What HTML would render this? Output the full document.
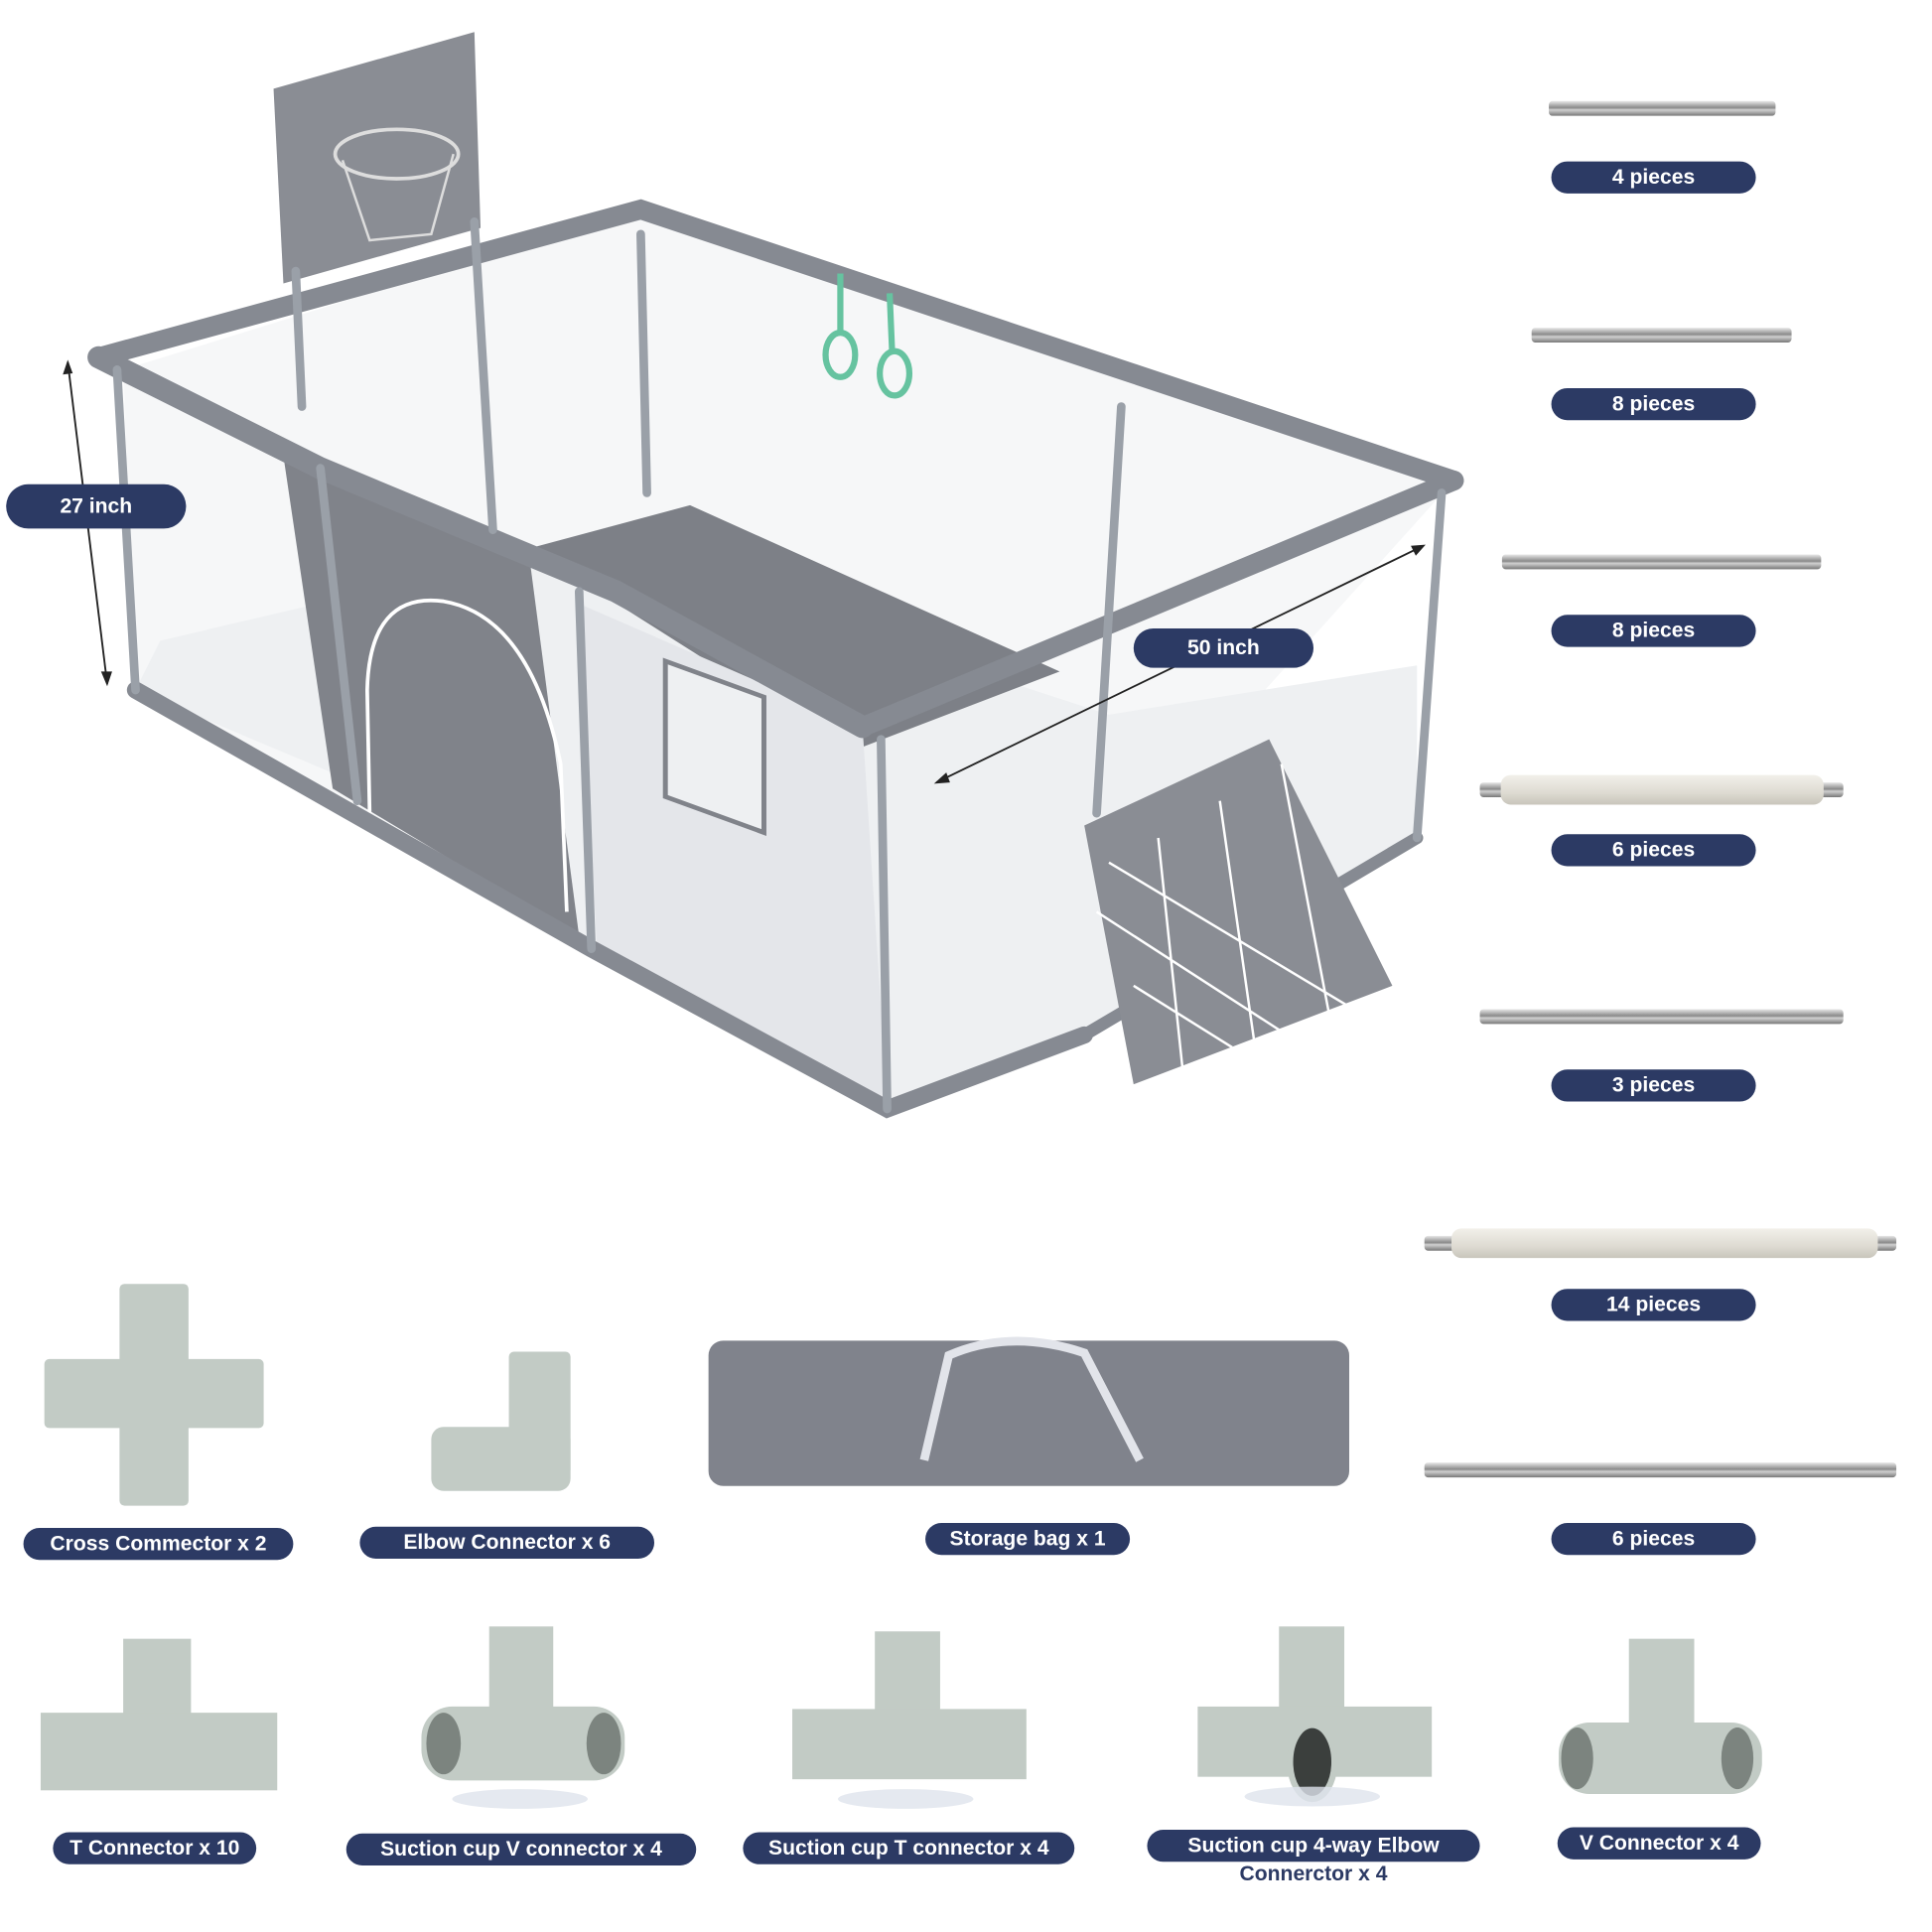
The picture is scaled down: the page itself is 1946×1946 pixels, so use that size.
<!DOCTYPE html>
<html><head><meta charset="utf-8"><style>
html,body{margin:0;padding:0;background:#fff;}
body{width:1946px;height:1946px;overflow:hidden;position:relative;}
#c{position:absolute;left:0;top:0;width:1568px;height:1568px;transform:scale(1.2411);transform-origin:0 0;font-family:"Liberation Sans",sans-serif;}
.l{position:absolute;background:#2c3a64;color:#fff;font-weight:bold;font-size:17px;height:26px;line-height:26px;border-radius:13px;text-align:center;white-space:nowrap;}
.rod{position:absolute;height:12px;border-radius:3px;background:linear-gradient(#e8e8e8,#8a8a8a 45%,#d0d0d0 60%,#777);}
.foam{position:absolute;height:24px;border-radius:8px;background:linear-gradient(#f2f0ea,#dedbd2 60%,#c8c5bb);}
</style></head><body><div id="c">
<svg width="1568" height="1568" style="position:absolute;left:0;top:0">
<g fill="#a9b2ad" stroke="#969f9a" stroke-width="1">
 <!-- playpen -->
</g>
<!-- floor / nets -->
<polygon points="100,300 520,170 1180,390 720,900 110,560" fill="#f6f7f8"/>
<polygon points="110,560 300,640 460,760 720,900 870,840 1150,680 1150,540 900,580 470,440 130,520" fill="#eef0f2"/>
<!-- hoop board -->
<polygon points="222,72 385,26 390,185 230,230" fill="#8a8d94"/>
<ellipse cx="322" cy="125" rx="50" ry="20" fill="none" stroke="#ddd" stroke-width="3"/>
<path d="M278,130 L300,195 L350,190 L368,125" fill="none" stroke="#ddd" stroke-width="2"/>
<!-- bed / mattress -->
<polygon points="430,445 560,410 860,545 690,610" fill="#7d8087"/>
<!-- front panel with door -->
<polygon points="230,370 430,455 470,760 270,640" fill="#80838a"/>
<path d="M300,660 L298,560 Q300,480 360,488 Q430,500 455,620 L460,740" fill="none" stroke="#fff" stroke-width="3"/>
<!-- mesh side panel -->
<polygon points="470,490 700,590 720,895 485,780" fill="#e4e6ea"/>
<rect x="540" y="540" width="80" height="110" fill="#eef0f2" stroke="#80838a" stroke-width="4" transform="skewY(20) translate(0,-200)"/>
<!-- frame tubes -->
<g stroke="#868a92" stroke-linecap="round" fill="none">
<path d="M80,290 L520,170 L1180,390" stroke-width="16"/>
<path d="M80,290 L260,380 L500,480 L700,590" stroke-width="18"/>
<path d="M700,590 L1180,390" stroke-width="16"/>
<path d="M110,560 L480,770 L720,900 L880,840" stroke-width="14"/>
<path d="M880,840 L1150,680" stroke-width="10"/>
<g stroke-width="7" stroke="#9aa0a8">
<path d="M95,300 L110,560"/><path d="M260,380 L290,650"/><path d="M470,480 L480,770"/>
<path d="M715,600 L720,900"/><path d="M1170,400 L1150,680"/><path d="M910,330 L890,660"/>
<path d="M520,190 L525,400"/><path d="M240,220 L245,330"/><path d="M385,180 L400,430"/>
</g>
</g>
<!-- goal net -->
<polygon points="880,670 1030,600 1130,800 920,880" fill="#8a8d94"/>
<g stroke="#fff" stroke-width="2"><path d="M900,700 L1100,820 M890,740 L1060,850 M920,800 L1000,850 M940,680 L960,870 M990,650 L1020,860 M1040,620 L1080,830"/></g>
<!-- green rings -->
<g fill="none" stroke="#66c3a0" stroke-width="5"><ellipse cx="682" cy="288" rx="12" ry="18"/><ellipse cx="726" cy="303" rx="12" ry="18"/><path d="M682,222 L682,270 M722,238 L724,285"/></g>
<!-- dimension lines -->
<g stroke="#222" stroke-width="1.5"><path d="M55,294 L87,555"/><path d="M760,635 L1155,443"/></g>
<g fill="#222"><polygon points="55,292 51,304 59,303"/><polygon points="87,557 82,545 91,545"/><polygon points="758,636 768,627 771,635"/><polygon points="1157,442 1145,443 1149,451"/></g>
<!-- connectors -->
<g fill="#c2cbc5">
<rect x="97" y="1042" width="56" height="180" rx="4"/><rect x="36" y="1103" width="178" height="56" rx="4"/>
<rect x="413" y="1097" width="50" height="100" rx="4"/><rect x="350" y="1158" width="113" height="52" rx="10"/>
<rect x="100" y="1330" width="55" height="95"/><rect x="33" y="1390" width="192" height="63"/>
<rect x="397" y="1320" width="52" height="100"/><rect x="342" y="1385" width="165" height="60" rx="25"/>
<rect x="710" y="1324" width="53" height="100"/><rect x="643" y="1387" width="190" height="57"/>
<rect x="1038" y="1320" width="53" height="100"/><rect x="972" y="1385" width="190" height="57"/>
<rect x="1322" y="1330" width="53" height="90"/><rect x="1265" y="1398" width="165" height="58" rx="25"/>
</g>
<g fill="#7c847f"><ellipse cx="360" cy="1415" rx="14" ry="25"/><ellipse cx="490" cy="1415" rx="14" ry="25"/>
<ellipse cx="1280" cy="1427" rx="13" ry="25"/><ellipse cx="1410" cy="1427" rx="13" ry="25"/></g>
<ellipse cx="1065" cy="1430" rx="18" ry="30" fill="#3b3f3d" stroke="#c2cbc5" stroke-width="5"/>
<g fill="#dfe4ec" opacity=".8"><ellipse cx="422" cy="1460" rx="55" ry="8"/><ellipse cx="735" cy="1460" rx="55" ry="8"/><ellipse cx="1065" cy="1458" rx="55" ry="8"/></g>
<!-- storage bag -->
<rect x="575" y="1088" width="520" height="118" rx="12" fill="#80838c"/>
<path d="M750,1185 L770,1100 Q820,1078 880,1098 L925,1185" fill="none" stroke="#e2e4ea" stroke-width="7"/>
</svg>
<div class="rod" style="left:1257px;top:82px;width:184px"></div>
<div class="rod" style="left:1243px;top:266px;width:211px"></div>
<div class="rod" style="left:1219px;top:450px;width:259px"></div>
<div class="rod" style="left:1201px;top:635px;width:295px"></div>
<div class="foam" style="left:1218px;top:629px;width:262px"></div>
<div class="rod" style="left:1201px;top:819px;width:295px"></div>
<div class="rod" style="left:1156px;top:1003px;width:383px"></div>
<div class="foam" style="left:1178px;top:997px;width:346px"></div>
<div class="rod" style="left:1156px;top:1187px;width:383px"></div>
<div class="l" style="left:1259px;top:131px;width:166px">4 pieces</div>
<div class="l" style="left:1259px;top:315px;width:166px">8 pieces</div>
<div class="l" style="left:1259px;top:499px;width:166px">8 pieces</div>
<div class="l" style="left:1259px;top:677px;width:166px">6 pieces</div>
<div class="l" style="left:1259px;top:868px;width:166px">3 pieces</div>
<div class="l" style="left:1259px;top:1046px;width:166px">14 pieces</div>
<div class="l" style="left:1259px;top:1236px;width:166px">6 pieces</div>
<div class="l" style="left:5px;top:393px;width:146px;height:36px;line-height:36px;border-radius:18px">27 inch</div>
<div class="l" style="left:920px;top:510px;width:146px;height:32px;line-height:32px;border-radius:16px">50 inch</div>
<div class="l" style="left:19px;top:1240px;width:219px">Cross Commector x 2</div>
<div class="l" style="left:292px;top:1239px;width:239px">Elbow Connector x 6</div>
<div class="l" style="left:751px;top:1236px;width:166px">Storage bag x 1</div>
<div class="l" style="left:43px;top:1487px;width:165px">T Connector x 10</div>
<div class="l" style="left:281px;top:1488px;width:284px">Suction cup V connector x 4</div>
<div class="l" style="left:603px;top:1487px;width:269px">Suction cup T connector x 4</div>
<div class="l" style="left:931px;top:1485px;width:270px">Suction cup 4-way Elbow</div>
<div style="position:absolute;left:931px;top:1511px;width:270px;text-align:center;color:#2c3a64;font-weight:bold;font-size:17px">Connerctor x 4</div>
<div class="l" style="left:1264px;top:1483px;width:165px">V Connector x 4</div>
</div></body></html>
